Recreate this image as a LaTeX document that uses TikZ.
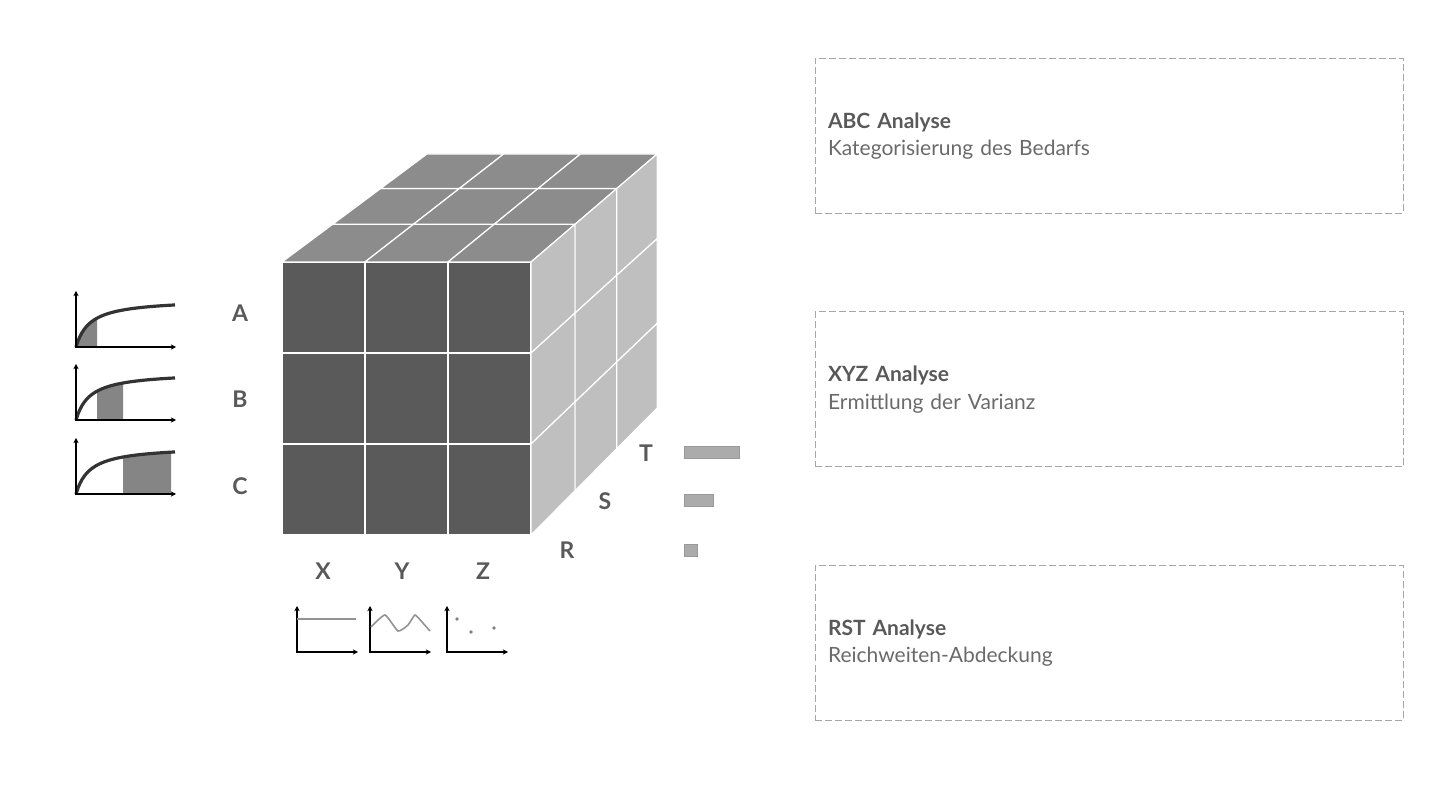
\documentclass[tikz,border=0pt]{standalone}
\usepackage{fontspec}
\setmainfont{Lato}
\usetikzlibrary{arrows.meta}
\definecolor{frontgray}{HTML}{5A5A5A}
\definecolor{topgray}{HTML}{8C8C8C}
\definecolor{sidegray}{HTML}{BFBFBF}
\definecolor{labelgray}{HTML}{595959}
\definecolor{subgray}{HTML}{6A6A6A}
\definecolor{framegray}{HTML}{A6A6A6}
\definecolor{bargray}{HTML}{ABABAB}
\definecolor{areagray}{HTML}{858585}

\begin{document}
\begin{tikzpicture}[
  x=0.5pt, y=-0.5pt,
  declare function={cx(\p,\q)=282+83*\p+(145-6.3*\p)*\q; cy(\p,\q)=262+91*\p-(108+6.3*\p)*\q;},
  cell/.style={draw=white, line width=0.6pt},
  axislab/.style={font=\bfseries\fontsize{11.5}{12}\selectfont, text=labelgray, inner sep=0pt},
  axisline/.style={line width=0.9pt, -{Stealth[length=2.6pt, width=2.6pt]}},
  curve/.style={line width=1.6pt, draw=black!80},
  trace/.style={line width=0.8pt, draw=gray!85},
  bar/.style={fill=bargray, draw=black!40, line width=0.5pt},
  infobox/.style={draw=framegray, dash pattern=on 3.5pt off 1.5pt, line width=0.5pt,
                  minimum width=294pt, minimum height=77.5pt, text width=281pt,
                  inner xsep=6.5pt, align=left, font=\fontsize{10.5}{13.8}\selectfont}
]
\useasboundingbox (0,0) rectangle (1452,790);
% ----- cube: front face -----
\foreach \i in {0,1,2}{\foreach \j in {0,1,2}{
  \filldraw[cell, fill=frontgray] ({282+83*\i},{262+91*\j}) rectangle ({365+83*\i},{353+91*\j});}}
% ----- cube: top face -----
\foreach \i in {0,1,2}{\foreach \ta/\tb in {0/0.35, 0.35/0.68, 0.68/1}{
  \filldraw[cell, fill=topgray] ({cx(\i,\ta)},{cy(0,\ta)}) -- ({cx(\i+1,\ta)},{cy(0,\ta)})
    -- ({cx(\i+1,\tb)},{cy(0,\tb)}) -- ({cx(\i,\tb)},{cy(0,\tb)}) -- cycle;}}
% ----- cube: right face -----
\foreach \j in {0,1,2}{\foreach \ta/\tb in {0/0.35, 0.35/0.68, 0.68/1}{
  \filldraw[cell, fill=sidegray] ({cx(3,\ta)},{cy(\j,\ta)}) -- ({cx(3,\tb)},{cy(\j,\tb)})
    -- ({cx(3,\tb)},{cy(\j+1,\tb)}) -- ({cx(3,\ta)},{cy(\j+1,\ta)}) -- cycle;}}
% ----- axis letters -----
\node[axislab] (rowA) at (240,313) {A};
\node[axislab] (rowB) at (240,399) {B};
\node[axislab] (rowC) at (240,486) {C};
\node[axislab] (colX) at (323,571) {X};
\node[axislab] (colY) at (402,571) {Y};
\node[axislab] (colZ) at (483,571) {Z};
\node[axislab] (depT) at (646,453) {T};
\node[axislab] (depS) at (605,501) {S};
\node[axislab] (depR) at (567,550) {R};
% ----- ABC: cumulative curves with shaded share -----
\foreach \oy/\da/\db in {347/1/21, 420/21/47, 494/47/95}{
  \fill[areagray] (76+\da,\oy) -- plot[domain=\da:\db, samples=16] ({76+\x},{\oy-48*\x/(\x+14)})
    -- (76+\db,\oy) -- cycle;
  \draw[curve] plot[domain=0:99, samples=50] ({76+\x},{\oy-48*\x/(\x+14)});
  \draw[axisline] (76,\oy) -- (76,\oy-56);
  \draw[axisline] (75,\oy) -- (176,\oy);
}
% ----- XYZ: demand patterns -----
\foreach \ox in {297,370,447}{
  \draw[axisline] (\ox,652) -- (\ox,606);
  \draw[axisline] (\ox-1,652) -- (\ox+61,652);
}
\draw[trace] (297,619) -- (356,619);
\draw[trace] plot[smooth, tension=0.3] coordinates {(371,627) (385,615) (398,631) (408,625) (415,615) (422,622) (430,631)};
\fill[gray] (457,619) circle (0.9pt) (471,632) circle (0.9pt) (494,628) circle (0.9pt);
% ----- RST: coverage bars -----
\filldraw[bar] (684,447) rectangle (739,459);
\filldraw[bar] (684,495) rectangle (713,507);
\filldraw[bar] (684,545) rectangle (697,557);
% ----- right column -----
\node[infobox] (abc) at (1109,136)
  {\textbf{\color{labelgray}ABC Analyse}\\{\color{subgray}Kategorisierung des Bedarfs}};
\node[infobox] (xyz) at (1109,389.5)
  {\textbf{\color{labelgray}XYZ Analyse}\\{\color{subgray}Ermittlung der Varianz}};
\node[infobox] (rst) at (1109,643)
  {\textbf{\color{labelgray}RST Analyse}\\{\color{subgray}Reichweiten-Abdeckung}};
\end{tikzpicture}
\end{document}
